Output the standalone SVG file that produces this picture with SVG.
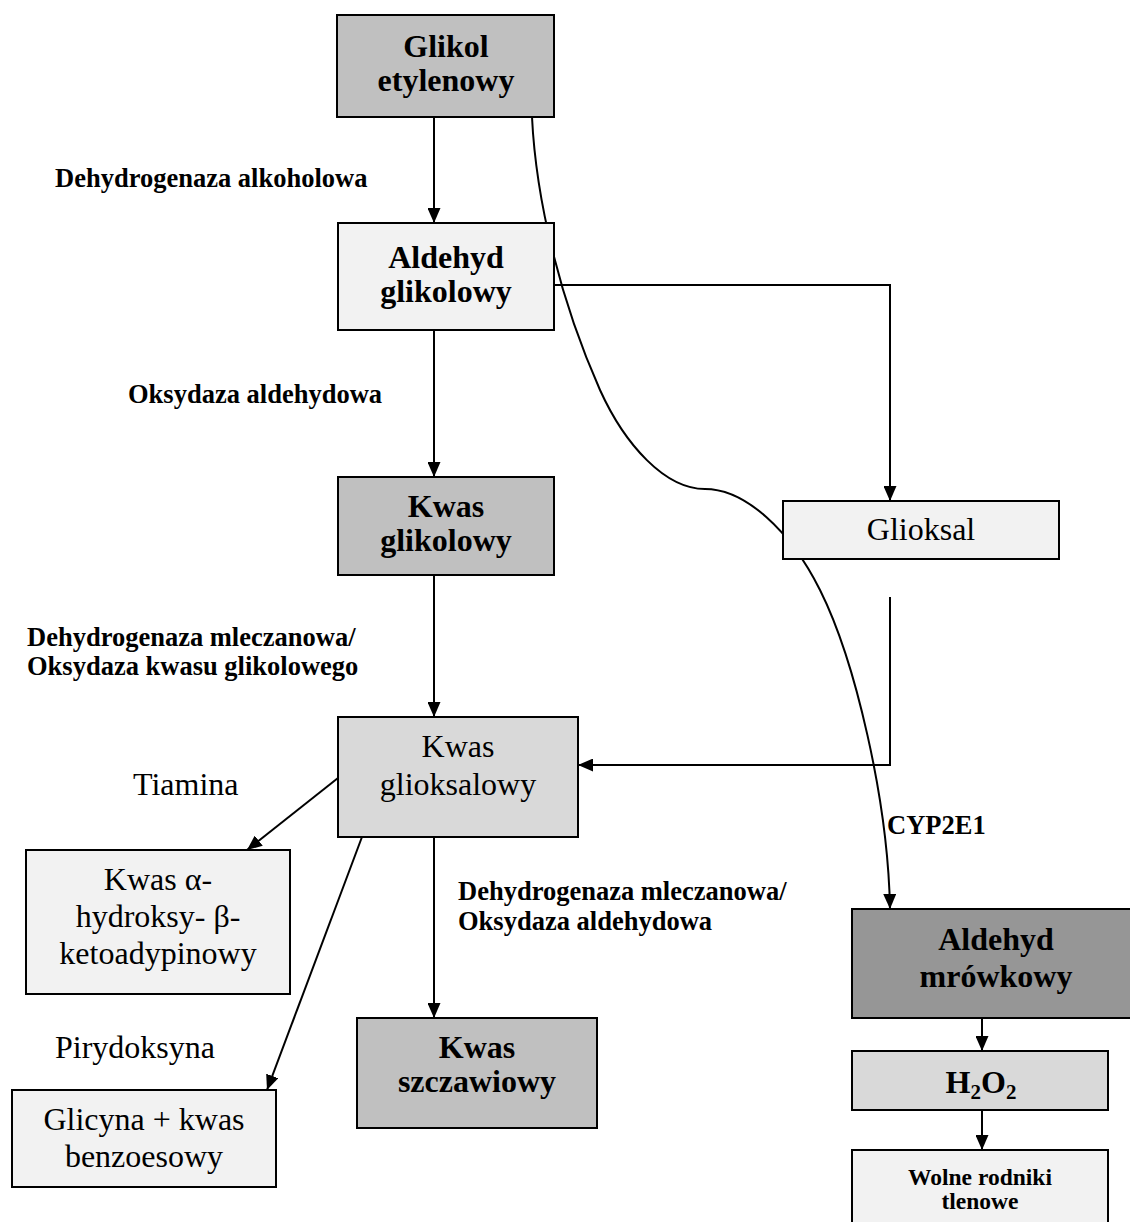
<svg xmlns="http://www.w3.org/2000/svg" width="1130" height="1222" viewBox="0 0 1130 1222">
<style>
.box{stroke:#000;stroke-width:2}
.c1{fill:#c0c0c0}.c2{fill:#f2f2f2}.c3{fill:#d9d9d9}.c4{fill:#969696}
.t{font-family:"Liberation Serif","Times New Roman",serif;fill:#000}
.b{font-weight:bold;font-size:32px;text-anchor:middle}
.r{font-size:32px;text-anchor:middle}
.lab{font-weight:bold;font-size:26.5px}
.ln{fill:none;stroke:#000;stroke-width:2}
</style>
<defs>
<marker id="ah" viewBox="0 0 15 13" refX="15" refY="6.5" markerWidth="15" markerHeight="13" markerUnits="userSpaceOnUse" orient="auto">
<path d="M0,0 L15,6.5 L0,13 z" fill="#000"/>
</marker>
</defs>
<g id="connectors">
<path class="ln" d="M532,117 C536,200 560,300 600,390 C625,445 665,489 705,489 C745,489 790,530 820,590 C855,660 888,800 890,909" marker-end="url(#ah)"/>
<line class="ln" x1="434" y1="117" x2="434" y2="223" marker-end="url(#ah)"/>
<line class="ln" x1="434" y1="330" x2="434" y2="477" marker-end="url(#ah)"/>
<line class="ln" x1="434" y1="575" x2="434" y2="717" marker-end="url(#ah)"/>
<line class="ln" x1="434" y1="837" x2="434" y2="1018" marker-end="url(#ah)"/>
<polyline class="ln" points="554,285 890,285 890,501" marker-end="url(#ah)"/>
<polyline class="ln" points="890,597 890,765 578,765" marker-end="url(#ah)"/>
<line class="ln" x1="338" y1="778" x2="247" y2="850" marker-end="url(#ah)"/>
<line class="ln" x1="362" y1="837" x2="267" y2="1090" marker-end="url(#ah)"/>
<line class="ln" x1="982" y1="1018" x2="982" y2="1051" marker-end="url(#ah)"/>
<line class="ln" x1="982" y1="1110" x2="982" y2="1150" marker-end="url(#ah)"/>
</g>
<g id="glikol-etylenowy">
<rect class="box c1" x="337" y="15" width="217" height="102"/>
<text class="t b" x="446" y="57">Glikol</text>
<text class="t b" x="446" y="91">etylenowy</text>
</g>
<g id="aldehyd-glikolowy">
<rect class="box c2" x="338" y="223" width="216" height="107"/>
<text class="t b" x="446" y="268">Aldehyd</text>
<text class="t b" x="446" y="302">glikolowy</text>
</g>
<g id="kwas-glikolowy">
<rect class="box c1" x="338" y="477" width="216" height="98"/>
<text class="t b" x="446" y="517">Kwas</text>
<text class="t b" x="446" y="551">glikolowy</text>
</g>
<g id="glioksal">
<rect class="box c2" x="783" y="501" width="276" height="58"/>
<text class="t r" x="921" y="540">Glioksal</text>
</g>
<g id="kwas-glioksalowy">
<rect class="box c3" x="338" y="717" width="240" height="120"/>
<text class="t r" x="458" y="757">Kwas</text>
<text class="t r" x="458" y="795">glioksalowy</text>
</g>
<g id="kwas-ketoadypinowy">
<rect class="box c2" x="26" y="850" width="264" height="144"/>
<text class="t r" x="158" y="890">Kwas α-</text>
<text class="t r" x="158" y="927">hydroksy- β-</text>
<text class="t r" x="158" y="964">ketoadypinowy</text>
</g>
<g id="glicyna">
<rect class="box c2" x="12" y="1090" width="264" height="97"/>
<text class="t r" x="144" y="1130">Glicyna + kwas</text>
<text class="t r" x="144" y="1167">benzoesowy</text>
</g>
<g id="kwas-szczawiowy">
<rect class="box c1" x="357" y="1018" width="240" height="110"/>
<text class="t b" x="477" y="1058">Kwas</text>
<text class="t b" x="477" y="1092">szczawiowy</text>
</g>
<g id="aldehyd-mrowkowy">
<rect class="box c4" x="852" y="909" width="288" height="109"/>
<text class="t b" x="996" y="950">Aldehyd</text>
<text class="t b" x="996" y="987">mrówkowy</text>
</g>
<g id="h2o2">
<rect class="box c3" x="852" y="1051" width="256" height="59"/>
<text class="t b" x="981" y="1093">H<tspan font-size="21" dy="6">2</tspan><tspan dy="-6">O</tspan><tspan font-size="21" dy="6">2</tspan></text>
</g>
<g id="wolne-rodniki">
<rect class="box c2" x="852" y="1150" width="256" height="80"/>
<text class="t" x="980" y="1185" font-weight="bold" font-size="23.5px" text-anchor="middle">Wolne rodniki</text>
<text class="t" x="980" y="1209" font-weight="bold" font-size="23.5px" text-anchor="middle">tlenowe</text>
</g>
<g id="labels">
<text class="t lab" x="55" y="187">Dehydrogenaza alkoholowa</text>
<text class="t lab" x="128" y="403">Oksydaza aldehydowa</text>
<text class="t lab" x="27" y="646">Dehydrogenaza mleczanowa/</text>
<text class="t lab" x="27" y="675">Oksydaza kwasu glikolowego</text>
<text class="t" x="133" y="795" font-size="32px">Tiamina</text>
<text class="t lab" x="887" y="834">CYP2E1</text>
<text class="t lab" x="458" y="900">Dehydrogenaza mleczanowa/</text>
<text class="t lab" x="458" y="930">Oksydaza aldehydowa</text>
<text class="t" x="55" y="1058" font-size="32px">Pirydoksyna</text>
</g>
</svg>
